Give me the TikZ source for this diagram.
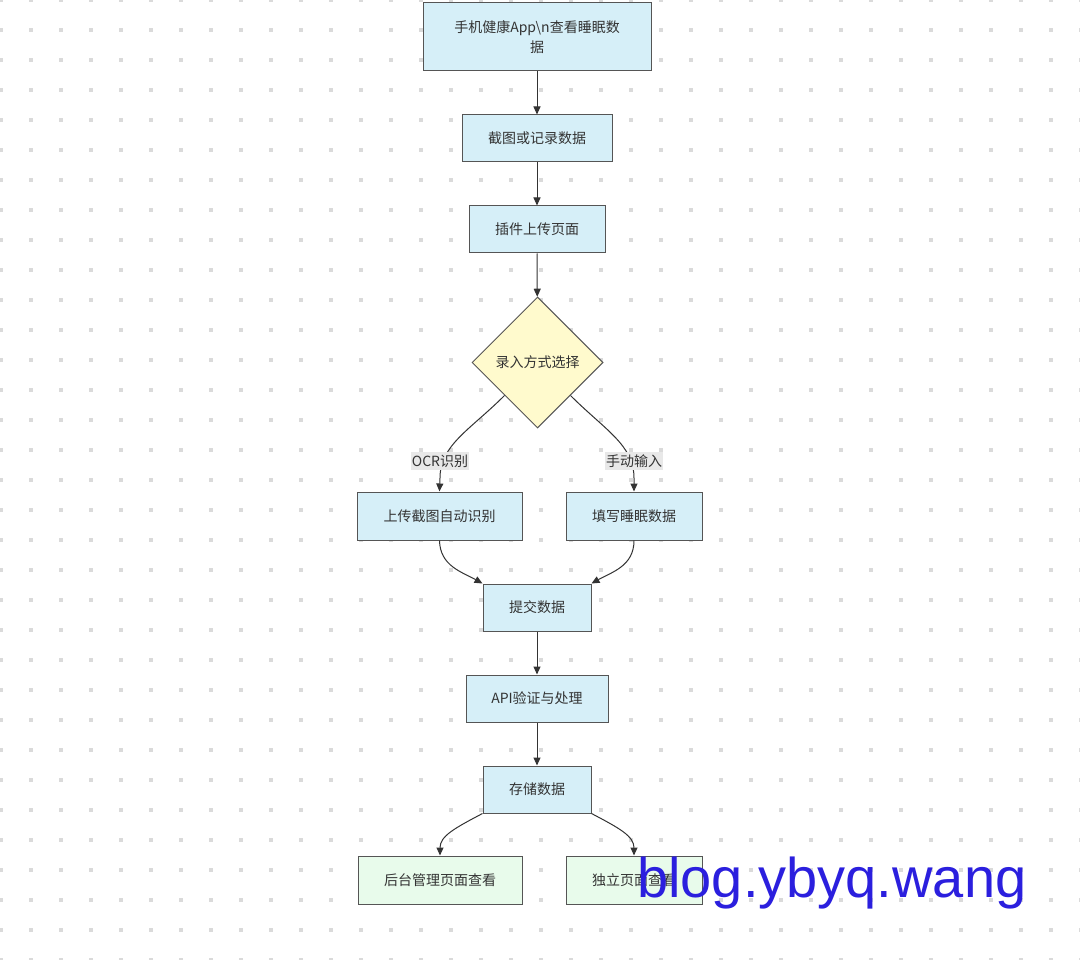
\documentclass[tikz,border=0pt]{standalone}
\usepackage{fontspec}
\setmainfont{Noto Sans CJK SC}
\newfontfamily\wmfont{Liberation Sans}
\usetikzlibrary{shapes.geometric,arrows.meta}
\definecolor{dotc}{RGB}{218,218,218}
\definecolor{boxfill}{RGB}{214,239,248}
\definecolor{greenfill}{RGB}{232,251,235}
\definecolor{yelfill}{RGB}{255,250,205}
\definecolor{boxline}{RGB}{85,85,85}
\definecolor{txt}{RGB}{51,51,51}
\definecolor{lblbg}{RGB}{232,232,232}
\definecolor{wmblue}{RGB}{43,31,222}
\tikzset{
  box/.style={draw=boxline, fill=boxfill, line width=1pt, inner sep=0pt, text=txt,
    font=\fontsize{14}{20}\selectfont, align=center},
  gbox/.style={box, fill=greenfill},
  dia/.style={box, diamond, aspect=1, fill=yelfill},
  edge/.style={draw=txt, line width=1pt, -{Triangle[length=8pt,width=7pt]}},
  lbl/.style={fill=lblbg, text=txt, inner xsep=1pt, inner ysep=3pt, font=\fontsize{14}{16}\selectfont}
}
\begin{document}
\begin{tikzpicture}[x=1pt,y=-1pt]
\useasboundingbox (0,0) rectangle (1080,960);
\fill[white] (0,0) rectangle (1080,960);
\foreach \i in {0,...,36}{
  \foreach \j in {0,...,32}{
    \fill[dotc] (30*\i+1-1.8,30*\j-1.8) rectangle +(3.6,3.6);
  }
}
\node[box, minimum width=228pt, minimum height=68pt] (n1) at (537,37) {手机健康App\textbackslash n查看睡眠数\\据};
\node[box, minimum width=150pt, minimum height=47pt] (n2) at (537,138.5) {截图或记录数据};
\node[box, minimum width=136pt, minimum height=47pt] (n3) at (537,229.5) {插件上传页面};
\node[dia, minimum width=131pt, minimum height=131pt] (n4) at (537.5,362.5) {录入方式选择};
\node[box, minimum width=165pt, minimum height=48pt] (n5) at (439.5,516) {上传截图自动识别};
\node[box, minimum width=136pt, minimum height=48pt] (n6) at (634,516) {填写睡眠数据};
\node[box, minimum width=108pt, minimum height=47pt] (n7) at (537,607.5) {提交数据};
\node[box, minimum width=142pt, minimum height=47pt] (n8) at (537,698.5) {API验证与处理};
\node[box, minimum width=108pt, minimum height=47pt] (n9) at (537,789.5) {存储数据};
\node[gbox, minimum width=164pt, minimum height=48pt] (n10) at (440,880) {后台管理页面查看};
\node[gbox, minimum width=136pt, minimum height=48pt] (n11) at (634,880) {独立页面查看};

\coordinate (c1) at (440,478);
\coordinate (c2) at (634,478);

\draw[edge] (n1) -- (n2);
\draw[edge] (n2) -- (n3);
\draw[edge] (n3) -- (n4);
\draw[edge] (n4.south west) .. controls (470,430) and (440,445) .. (c1) -- (n5.north);
\draw[edge] (n4.south east) .. controls (605,430) and (634,445) .. (c2) -- (n6.north);
\draw[edge] (n5.south) .. controls (440,566) and (462,572) .. (n7.north west);
\draw[edge] (n6.south) .. controls (634,566) and (612,572) .. (n7.north east);
\draw[edge] (n7) -- (n8);
\draw[edge] (n8) -- (n9);
\draw[edge] (n9.south west) .. controls (455,828) and (440,836) .. (n10.north);
\draw[edge] (n9.south east) .. controls (619,828) and (634,836) .. (n11.north);

\node[lbl] (l1) at (440,461) {OCR识别};
\node[lbl] (l2) at (634,461) {手动输入};

\node[anchor=base west, inner sep=0pt, text=wmblue, font=\wmfont\fontsize{56}{60}\selectfont] (wm) at (637,897) {blog.ybyq.wang};
\end{tikzpicture}
\end{document}
